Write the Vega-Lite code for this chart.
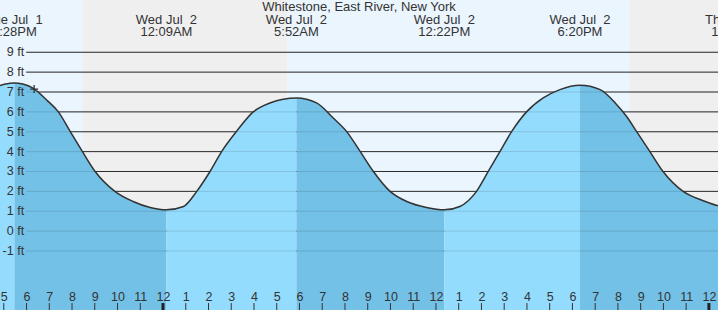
{
  "$schema": "https://vega.github.io/schema/vega-lite/v6.json",
  "width": 718,
  "height": 310,
  "autosize": {"type": "none"},
  "padding": 0,
  "background": "#ffffff",
  "config": {
    "view": {"stroke": null},
    "font": "Liberation Sans"
  },
  "datasets": {
    "sun": [
      {"s": "2025-07-01T16:50:00", "e": "2025-07-01T20:29:00", "p": "day"},
      {"s": "2025-07-01T20:29:00", "e": "2025-07-02T05:27:00", "p": "night"},
      {"s": "2025-07-02T05:27:00", "e": "2025-07-02T20:32:00", "p": "day"},
      {"s": "2025-07-02T20:32:00", "e": "2025-07-03T00:24:00", "p": "night"}
    ],
    "grid": [
      {"v": -1, "lab": "-1 ft", "from": "2025-07-01T17:59:00", "to": "2025-07-03T00:24:00"},
      {"v": 0, "lab": "0 ft", "from": "2025-07-01T17:59:00", "to": "2025-07-03T00:24:00"},
      {"v": 1, "lab": "1 ft", "from": "2025-07-01T17:59:00", "to": "2025-07-03T00:24:00"},
      {"v": 2, "lab": "2 ft", "from": "2025-07-01T17:59:00", "to": "2025-07-03T00:24:00"},
      {"v": 3, "lab": "3 ft", "from": "2025-07-01T17:59:00", "to": "2025-07-03T00:24:00"},
      {"v": 4, "lab": "4 ft", "from": "2025-07-01T17:59:00", "to": "2025-07-03T00:24:00"},
      {"v": 5, "lab": "5 ft", "from": "2025-07-01T17:59:00", "to": "2025-07-03T00:24:00"},
      {"v": 6, "lab": "6 ft", "from": "2025-07-01T17:59:00", "to": "2025-07-03T00:24:00"},
      {"v": 7, "lab": "7 ft", "from": "2025-07-01T17:59:00", "to": "2025-07-03T00:24:00"},
      {"v": 8, "lab": "8 ft", "from": "2025-07-01T17:59:00", "to": "2025-07-03T00:24:00"},
      {"v": 9, "lab": "9 ft", "from": "2025-07-01T17:59:00", "to": "2025-07-03T00:24:00"}
    ],
    "hours": [
      {"t": "2025-07-01T17:00:00"}, {"t": "2025-07-01T18:00:00"}, {"t": "2025-07-01T19:00:00"},
      {"t": "2025-07-01T20:00:00"}, {"t": "2025-07-01T21:00:00"}, {"t": "2025-07-01T22:00:00"},
      {"t": "2025-07-01T23:00:00"}, {"t": "2025-07-02T00:00:00"}, {"t": "2025-07-02T01:00:00"},
      {"t": "2025-07-02T02:00:00"}, {"t": "2025-07-02T03:00:00"}, {"t": "2025-07-02T04:00:00"},
      {"t": "2025-07-02T05:00:00"}, {"t": "2025-07-02T06:00:00"}, {"t": "2025-07-02T07:00:00"},
      {"t": "2025-07-02T08:00:00"}, {"t": "2025-07-02T09:00:00"}, {"t": "2025-07-02T10:00:00"},
      {"t": "2025-07-02T11:00:00"}, {"t": "2025-07-02T12:00:00"}, {"t": "2025-07-02T13:00:00"},
      {"t": "2025-07-02T14:00:00"}, {"t": "2025-07-02T15:00:00"}, {"t": "2025-07-02T16:00:00"},
      {"t": "2025-07-02T17:00:00"}, {"t": "2025-07-02T18:00:00"}, {"t": "2025-07-02T19:00:00"},
      {"t": "2025-07-02T20:00:00"}, {"t": "2025-07-02T21:00:00"}, {"t": "2025-07-02T22:00:00"},
      {"t": "2025-07-02T23:00:00"}, {"t": "2025-07-03T00:00:00"}
    ],
    "midnight": [
      {"t": "2025-07-02T00:00:00"},
      {"t": "2025-07-03T00:00:00"}
    ],
    "tide": [
      {"t": "2025-07-01T16:50:00", "ft": 7.32, "seg": ["r0"]},
      {"t": "2025-07-01T17:05:00", "ft": 7.40, "seg": ["r0"]},
      {"t": "2025-07-01T17:28:00", "ft": 7.45, "seg": ["r0", "e1"]},
      {"t": "2025-07-01T17:50:00", "ft": 7.40, "seg": ["e1"]},
      {"t": "2025-07-01T18:17:00", "ft": 7.20, "seg": ["e1"]},
      {"t": "2025-07-01T18:53:00", "ft": 6.60, "seg": ["e1"]},
      {"t": "2025-07-01T19:24:00", "ft": 6.00, "seg": ["e1"]},
      {"t": "2025-07-01T19:55:00", "ft": 5.02, "seg": ["e1"]},
      {"t": "2025-07-01T20:26:00", "ft": 4.05, "seg": ["e1"]},
      {"t": "2025-07-01T21:01:00", "ft": 3.00, "seg": ["e1"]},
      {"t": "2025-07-01T21:53:00", "ft": 2.00, "seg": ["e1"]},
      {"t": "2025-07-01T22:41:00", "ft": 1.49, "seg": ["e1"]},
      {"t": "2025-07-01T23:26:00", "ft": 1.19, "seg": ["e1"]},
      {"t": "2025-07-02T00:09:00", "ft": 1.07, "seg": ["e1", "r1"]},
      {"t": "2025-07-02T00:54:00", "ft": 1.24, "seg": ["r1"]},
      {"t": "2025-07-02T01:29:00", "ft": 2.00, "seg": ["r1"]},
      {"t": "2025-07-02T02:04:00", "ft": 3.00, "seg": ["r1"]},
      {"t": "2025-07-02T02:35:00", "ft": 4.01, "seg": ["r1"]},
      {"t": "2025-07-02T03:14:00", "ft": 5.02, "seg": ["r1"]},
      {"t": "2025-07-02T03:58:00", "ft": 6.00, "seg": ["r1"]},
      {"t": "2025-07-02T04:42:00", "ft": 6.45, "seg": ["r1"]},
      {"t": "2025-07-02T05:52:00", "ft": 6.70, "seg": ["r1", "e2"]},
      {"t": "2025-07-02T06:45:00", "ft": 6.45, "seg": ["e2"]},
      {"t": "2025-07-02T07:29:00", "ft": 5.69, "seg": ["e2"]},
      {"t": "2025-07-02T08:04:00", "ft": 5.02, "seg": ["e2"]},
      {"t": "2025-07-02T08:40:00", "ft": 4.01, "seg": ["e2"]},
      {"t": "2025-07-02T09:15:00", "ft": 3.00, "seg": ["e2"]},
      {"t": "2025-07-02T09:59:00", "ft": 2.00, "seg": ["e2"]},
      {"t": "2025-07-02T10:43:00", "ft": 1.49, "seg": ["e2"]},
      {"t": "2025-07-02T11:35:00", "ft": 1.19, "seg": ["e2"]},
      {"t": "2025-07-02T12:22:00", "ft": 1.07, "seg": ["e2", "r2"]},
      {"t": "2025-07-02T13:03:00", "ft": 1.24, "seg": ["r2"]},
      {"t": "2025-07-02T13:47:00", "ft": 2.00, "seg": ["r2"]},
      {"t": "2025-07-02T14:18:00", "ft": 3.00, "seg": ["r2"]},
      {"t": "2025-07-02T14:49:00", "ft": 4.01, "seg": ["r2"]},
      {"t": "2025-07-02T15:20:00", "ft": 5.02, "seg": ["r2"]},
      {"t": "2025-07-02T15:59:00", "ft": 6.00, "seg": ["r2"]},
      {"t": "2025-07-02T16:43:00", "ft": 6.70, "seg": ["r2"]},
      {"t": "2025-07-02T17:27:00", "ft": 7.12, "seg": ["r2"]},
      {"t": "2025-07-02T18:20:00", "ft": 7.34, "seg": ["r2", "e3"]},
      {"t": "2025-07-02T19:13:00", "ft": 7.12, "seg": ["e3"]},
      {"t": "2025-07-02T19:57:00", "ft": 6.36, "seg": ["e3"]},
      {"t": "2025-07-02T20:23:00", "ft": 5.77, "seg": ["e3"]},
      {"t": "2025-07-02T20:49:00", "ft": 5.02, "seg": ["e3"]},
      {"t": "2025-07-02T21:24:00", "ft": 4.01, "seg": ["e3"]},
      {"t": "2025-07-02T21:59:00", "ft": 3.00, "seg": ["e3"]},
      {"t": "2025-07-02T22:52:00", "ft": 2.00, "seg": ["e3"]},
      {"t": "2025-07-02T23:45:00", "ft": 1.53, "seg": ["e3"]},
      {"t": "2025-07-03T00:24:00", "ft": 1.27, "seg": ["e3"]}
    ],
    "now": [
      {"t": "2025-07-01T18:20:00", "ft": 7.15}
    ],
    "ext": [
      {"t": "2025-07-01T17:28:00", "label": "Tue Jul\u00a0 1\n5:28PM"},
      {"t": "2025-07-02T00:09:00", "label": "Wed Jul\u00a0 2\n12:09AM"},
      {"t": "2025-07-02T05:52:00", "label": "Wed Jul\u00a0 2\n5:52AM"},
      {"t": "2025-07-02T12:22:00", "label": "Wed Jul\u00a0 2\n12:22PM"},
      {"t": "2025-07-02T18:20:00", "label": "Wed Jul\u00a0 2\n6:20PM"},
      {"t": "2025-07-03T01:05:00", "label": "Thu Jul\u00a0 3\n1:05AM"}
    ],
    "ttl": [
      {"t": "2025-07-02T08:37:00", "label": "Whitestone, East River, New York"}
    ]
  },
  "layer": [
    {
      "data": {"name": "sun"},
      "mark": {"type": "rect", "clip": true},
      "encoding": {
        "x": {
          "field": "s",
          "type": "temporal",
          "title": null,
          "scale": {
            "domain": [
              {"year": 2025, "month": 7, "date": 1, "hours": 16, "minutes": 50},
              {"year": 2025, "month": 7, "date": 3, "hours": 0, "minutes": 24}
            ],
            "nice": false
          },
          "axis": {
            "title": null,
            "domain": false,
            "grid": false,
            "ticks": false,
            "tickCount": 32,
            "format": "%-I",
            "labelAngle": 0,
            "labelPadding": -20,
            "labelFontSize": 12.5,
            "labelColor": "#333333",
            "labelFont": "Liberation Sans",
            "zindex": 1
          }
        },
        "x2": {"field": "e"},
        "fill": {
          "condition": {"test": "datum.p === 'night'", "value": "#efefef"},
          "value": "#ebf5fe"
        }
      }
    },
    {
      "data": {"name": "grid"},
      "mark": {"type": "rule", "clip": true, "color": "#333333", "strokeWidth": 1},
      "encoding": {
        "y": {
          "field": "v",
          "type": "quantitative",
          "title": null,
          "scale": {"domain": [-3.97, 11.63], "nice": false, "zero": false},
          "axis": {
            "title": null,
            "labels": false,
            "domain": false,
            "ticks": false,
            "grid": false
          }
        },
        "x": {"field": "from", "type": "temporal", "title": null},
        "x2": {"field": "to"}
      }
    },
    {
      "data": {"name": "tide"},
      "transform": [{"flatten": ["seg"]}],
      "mark": {"type": "area", "interpolate": "monotone", "clip": true},
      "encoding": {
        "x": {"field": "t", "type": "temporal", "title": null},
        "y": {"field": "ft", "type": "quantitative", "stack": null, "title": null},
        "y2": {"datum": -3.97},
        "detail": {"field": "seg"},
        "fill": {
          "condition": {"test": "indexof(datum.seg, 'e') === 0", "value": "#73c1e6"},
          "value": "#94dcfd"
        }
      }
    },
    {
      "data": {"name": "grid"},
      "mark": {"type": "rule", "clip": true, "color": "#000000", "strokeWidth": 1, "opacity": 0.12},
      "encoding": {
        "y": {"field": "v", "type": "quantitative", "title": null},
        "x": {"field": "from", "type": "temporal", "title": null},
        "x2": {"field": "to"}
      }
    },
    {
      "data": {"name": "tide"},
      "mark": {"type": "line", "interpolate": "monotone", "clip": true, "color": "#333333", "strokeWidth": 1.5},
      "encoding": {
        "x": {"field": "t", "type": "temporal", "title": null},
        "y": {"field": "ft", "type": "quantitative", "title": null}
      }
    },
    {
      "data": {"name": "grid"},
      "mark": {
        "type": "text",
        "align": "right",
        "baseline": "middle",
        "dx": -2,
        "fontSize": 12.5,
        "font": "Liberation Sans",
        "color": "#333333"
      },
      "encoding": {
        "x": {"field": "from", "type": "temporal", "title": null},
        "y": {"field": "v", "type": "quantitative", "title": null},
        "text": {"field": "lab"}
      }
    },
    {
      "data": {"name": "hours"},
      "mark": {"type": "rule", "clip": true, "color": "#333333", "strokeWidth": 1},
      "encoding": {
        "x": {"field": "t", "type": "temporal", "title": null},
        "y": {"datum": -3.97},
        "y2": {"datum": -3.62}
      }
    },
    {
      "data": {"name": "midnight"},
      "mark": {"type": "rule", "clip": true, "color": "#222222", "strokeWidth": 3},
      "encoding": {
        "x": {"field": "t", "type": "temporal", "title": null},
        "y": {"datum": -3.97},
        "y2": {"datum": -3.62}
      }
    },
    {
      "data": {"name": "now"},
      "mark": {"type": "point", "shape": "M-1,0L1,0M0,-1L0,1", "filled": false, "stroke": "#333333", "strokeWidth": 1.3, "size": 64, "opacity": 1},
      "encoding": {
        "x": {"field": "t", "type": "temporal", "title": null},
        "y": {"field": "ft", "type": "quantitative", "title": null}
      }
    },
    {
      "data": {"name": "ext"},
      "mark": {
        "type": "text",
        "clip": true,
        "align": "center",
        "baseline": "alphabetic",
        "fontSize": 13,
        "lineHeight": 12,
        "lineBreak": "\n",
        "font": "Liberation Sans",
        "color": "#333333"
      },
      "encoding": {
        "x": {"field": "t", "type": "temporal", "title": null},
        "y": {"datum": 10.42},
        "text": {"field": "label"}
      }
    },
    {
      "data": {"name": "ttl"},
      "mark": {
        "type": "text",
        "clip": true,
        "align": "center",
        "baseline": "alphabetic",
        "fontSize": 13,
        "font": "Liberation Sans",
        "color": "#333333"
      },
      "encoding": {
        "x": {"field": "t", "type": "temporal", "title": null},
        "y": {"datum": 11.08},
        "text": {"field": "label"}
      }
    }
  ]
}
